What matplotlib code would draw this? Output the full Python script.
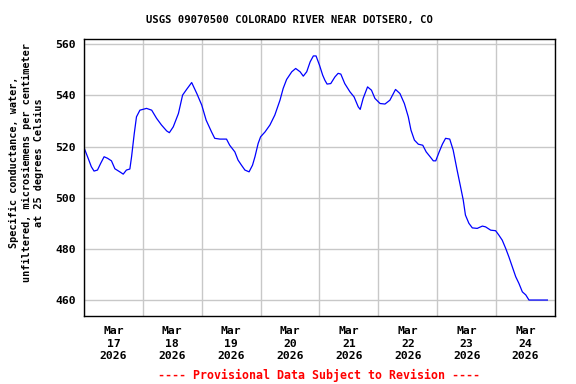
import matplotlib
matplotlib.use("Agg")
import matplotlib.pyplot as plt
from matplotlib.ticker import MultipleLocator, FixedLocator, FixedFormatter, NullFormatter

# hours since Mar 17 2026 00:00, specific conductance (uS/cm)
hours = [0.0, 1.7, 3.0, 4.1, 5.5, 6.8, 8.2, 9.6, 11.2, 12.6, 14.6, 16.0, 17.3, 18.7,
         19.4, 20.5, 21.4, 22.8, 25.5, 27.6, 29.6, 31.6, 33.7, 34.8, 36.4, 38.5,
         40.2, 41.9, 43.9, 46.0, 48.0, 49.8, 52.0, 53.3, 55.4, 58.1, 59.4, 61.5,
         62.8, 64.2, 65.6, 67.3, 68.7, 69.7, 71.0, 72.0, 73.8, 75.8, 77.8, 79.9,
         81.2, 82.6, 84.7, 86.3, 88.1, 89.4, 90.8, 92.2, 93.5, 94.6, 96.0, 97.3,
         98.2, 99.1, 100.6, 102.3, 103.6, 104.7, 106.3, 108.4, 110.1, 111.8, 112.6,
         113.8, 115.6, 117.2, 118.6, 120.7, 122.7, 124.7, 127.0, 128.8, 130.6,
         132.2, 133.3, 134.7, 136.3, 138.1, 139.5, 141.1, 142.4, 143.4, 144.8,
         146.1, 147.4, 149.1, 150.5, 152.1, 153.5, 154.6, 155.5, 156.9, 158.3,
         160.3, 162.4, 163.7, 165.8, 167.8, 169.1, 170.5, 171.9, 173.2, 174.6,
         176.0, 177.3, 178.7, 180.1, 181.4, 184.8, 188.9]
cond = [519.6, 515.4, 512.1, 510.4, 510.8, 513.4, 516.0, 515.4, 514.4, 511.3, 510.1,
        509.2, 510.8, 511.2, 516.0, 525.1, 531.6, 534.2, 534.9, 534.2, 531.0, 528.4,
        526.1, 525.4, 527.7, 532.9, 540.1, 542.4, 545.0, 540.7, 536.2, 530.3, 525.7,
        523.2, 522.9, 522.9, 520.5, 517.9, 514.7, 512.7, 510.8, 510.1, 512.7, 516.0,
        521.2, 523.8, 525.7, 528.4, 532.3, 538.1, 542.7, 546.2, 549.2, 550.5, 549.2,
        547.5, 549.2, 553.1, 555.4, 555.4, 551.8, 547.9, 545.9, 544.4, 544.6, 547.2,
        548.6, 548.3, 544.6, 541.4, 539.4, 535.5, 534.5, 538.8, 543.3, 542.0, 538.8,
        536.8, 536.6, 538.1, 542.3, 540.7, 536.8, 531.6, 526.4, 522.5, 520.9, 520.5,
        517.9, 516.0, 514.4, 514.4, 517.9, 520.9, 523.2, 522.9, 518.6, 510.8, 504.3,
        499.1, 493.2, 490.0, 488.2, 488.0, 488.9, 488.6, 487.3, 487.1, 485.4, 483.4,
        480.2, 476.9, 473.0, 469.1, 466.5, 463.2, 462.0, 460.0, 460.0, 460.0]

day_labels = ["Mar\n17\n2026", "Mar\n18\n2026", "Mar\n19\n2026", "Mar\n20\n2026",
              "Mar\n21\n2026", "Mar\n22\n2026", "Mar\n23\n2026", "Mar\n24\n2026"]
y_ticks = [460, 480, 500, 520, 540, 560]

title = "USGS 09070500 COLORADO RIVER NEAR DOTSERO, CO"
ylabel = ("Specific conductance, water,\n"
          "unfiltered, microsiemens per centimeter\n"
          "at 25 degrees Celsius")
footer = "---- Provisional Data Subject to Revision ----"

mono = "DejaVu Sans Mono"

fig = plt.figure(figsize=(5.76, 3.84), dpi=100)
ax = fig.add_axes([0.1458, 0.177, 0.8177, 0.721])

ax.plot(hours, cond, color="#0000ff", lw=0.9)

ax.set_xlim(0, 192)
ax.set_ylim(453.75, 561.95)

# gridlines at midnight, labels at noon
ax.xaxis.set_major_locator(MultipleLocator(24))
ax.xaxis.set_major_formatter(NullFormatter())
ax.xaxis.set_minor_locator(FixedLocator([12 + 24 * i for i in range(len(day_labels))]))
ax.xaxis.set_minor_formatter(FixedFormatter(day_labels))
ax.set_yticks(y_ticks)
ax.set_yticklabels([str(v) for v in y_ticks])

ax.grid(True, which="major", color="#c8c8c8", lw=1)
ax.set_axisbelow(True)
ax.tick_params(axis="both", which="both", length=0)
ax.tick_params(axis="x", which="minor", pad=7.5)
ax.tick_params(axis="y", pad=6)
for lab in ax.get_xticklabels(minor=True) + ax.get_yticklabels():
    lab.set_fontfamily(mono)
    lab.set_fontweight("bold")
    lab.set_fontsize(8.2)
    lab.set_linespacing(1.28)
for sp in ax.spines.values():
    sp.set_linewidth(1.0)
    sp.set_color("black")

fig.text(0.503, 0.948, title, ha="center", va="center",
         family=mono, weight="bold", size=7.6)
fig.text(0.046, 0.577, ylabel, ha="center", va="center", rotation=90,
         multialignment="center", linespacing=1.3,
         family=mono, weight="bold", size=7.3)
fig.text(0.553, 0.023, footer, ha="center", va="center", color="red",
         family=mono, weight="bold", size=8.4)

fig.savefig("out.png", dpi=100)
